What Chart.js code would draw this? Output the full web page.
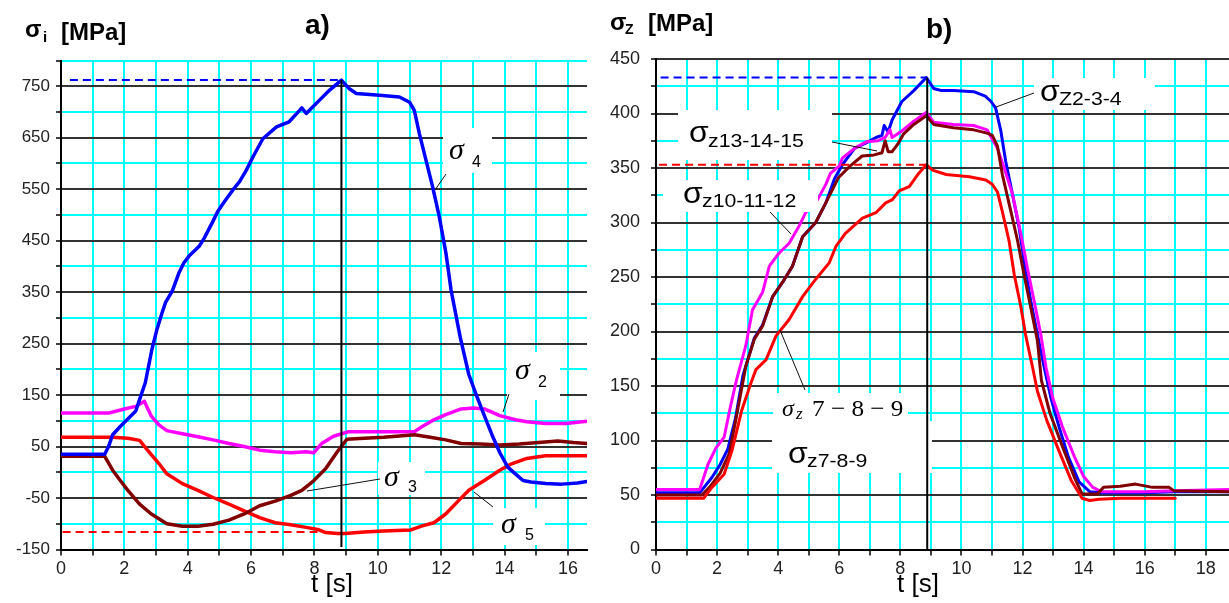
<!DOCTYPE html>
<html>
<head>
<meta charset="utf-8">
<script src="https://cdn.jsdelivr.net/npm/chart.js@4.4.0/dist/chart.umd.min.js"></script>
<style>
  html, body { margin: 0; padding: 0; background: #fff; }
  #wrap { position: relative; width: 1229px; height: 603px; overflow: hidden; }
  .panel { position: absolute; top: 0; height: 603px; }
  #panelA { left: 0; width: 600px; }
  #panelB { left: 596px; width: 633px; }
</style>
</head>
<body>
<div id="wrap">
  <div class="panel" id="panelA"><canvas id="chartA"></canvas></div>
  <div class="panel" id="panelB"><canvas id="chartB"></canvas></div>
</div>
<script>
// ---- panel a) sigma_i [MPa] vs t [s]
const timeS4 = [0, 1.38, 1.5, 1.63, 1.87, 2.1, 2.36, 2.5, 2.66, 2.87, 3.03, 3.19, 3.3, 3.51, 3.72, 3.88, 4.04, 4.36, 4.52, 4.79, 4.95, 5.16, 5.43, 5.64, 5.85, 6.06, 6.37, 6.8, 7.2, 7.53, 7.6, 7.74, 7.95, 8.16, 8.47, 8.85, 9.1, 9.32, 9.74, 10.15, 10.68, 11.0, 11.15, 11.31, 11.52, 11.73, 11.94, 12.15, 12.31, 12.6, 12.87, 13.12, 13.36, 13.6, 13.85, 14.1, 14.34, 14.58, 14.83, 15.3, 15.8, 16.3, 16.6];
const sigma4 = [35, 35, 50, 73, 89, 103, 119, 145, 174, 239, 278, 310, 330, 352, 387, 407, 420, 439, 455, 487, 507, 526, 549, 565, 587, 613, 648, 671, 681, 703, 708, 697, 710, 723, 742, 762, 745, 736, 734, 732, 729, 719, 703, 658, 606, 554, 496, 425, 354, 262, 190, 148, 110, 73, 38, 10, -3, -16, -19, -22, -23, -21, -18];

const timeS2 = [0, 1.5, 2.0, 2.36, 2.63, 2.85, 3.09, 3.34, 3.83, 4.32, 4.8, 5.3, 5.78, 6.27, 6.76, 7.25, 7.74, 7.98, 8.23, 8.6, 9.08, 9.7, 11.16, 11.4, 11.77, 12.14, 12.63, 13.0, 13.36, 13.85, 14.34, 14.7, 15.3, 15.93, 16.6];
const sigma2 = [115, 115, 123, 128, 138, 109, 92, 81, 75, 69, 63, 56, 50, 43, 40, 38, 40, 38, 56, 70, 79, 79, 79, 89, 102, 112, 123, 125, 123, 110, 102, 98, 95, 95, 99];

const timeS3 = [0, 1.38, 1.63, 1.87, 2.11, 2.48, 2.85, 3.34, 3.83, 4.32, 4.8, 5.3, 5.78, 6.27, 6.76, 7.25, 7.6, 7.98, 8.35, 8.72, 9.02, 9.57, 10.18, 11.16, 11.65, 12.14, 12.63, 13.24, 13.85, 14.46, 15.07, 15.68, 16.17, 16.6];
const sigma3 = [31, 31, 4, -16, -35, -62, -81, -100, -105, -105, -101, -93, -81, -65, -56, -45, -35, -16, 7, 40, 64, 66, 68, 73, 68, 63, 56, 55, 53, 55, 58, 61, 58, 56];

const timeS5 = [0, 1.63, 2.11, 2.48, 2.73, 3.09, 3.34, 3.83, 4.32, 4.8, 5.3, 5.78, 6.27, 6.76, 7.25, 7.74, 8.1, 8.35, 8.72, 8.96, 9.57, 10.18, 11.04, 11.4, 11.77, 12.14, 12.5, 12.87, 13.36, 13.85, 14.2, 14.7, 15.3, 16.6];
const sigma5 = [68, 68, 66, 62, 43, 17, -3, -22, -35, -49, -62, -75, -88, -98, -102, -107, -111, -117, -119, -119, -116, -114, -112, -104, -98, -81, -58, -35, -16, 4, 16, 27, 32, 32];

const peakTimeA = 8.85;
const peakA = 762;      // blue dashed level
const minA = -116;      // red dashed level
const yLabelsA = [-150, -50, 50, 150, 250, 350, 450, 550, 650, 750];
const xLabelsA = [0, 2, 4, 6, 8, 10, 12, 14, 16];

// ---- panel b) sigma_z [MPa] vs t [s]
const timeZ234 = [0, 1.43, 1.83, 2.1, 2.35, 2.6, 2.85, 3.22, 3.49, 3.82, 4.14, 4.47, 4.8, 5.23, 5.56, 5.84, 6.1, 6.5, 6.88, 7.2, 7.4, 7.47, 7.6, 7.73, 8.05, 8.44, 8.85, 9.09, 9.35, 9.74, 10.4, 10.78, 10.97, 11.12, 11.29, 11.45, 11.67, 11.89, 12.05, 12.27, 12.49, 12.71, 12.93, 13.2, 13.5, 13.85, 14.2, 14.6, 16, 17, 18.76];
const sigmaZ234 = [52, 52, 66, 78, 92, 120, 160, 194, 206, 232, 245, 260, 287, 300, 318, 340, 353, 368, 373, 378, 380, 389, 383, 394, 411, 421, 433, 423, 421, 421, 420, 416, 411, 405, 384, 356, 326, 295, 265, 228, 197, 167, 139, 112, 85, 62, 53, 52, 52, 53, 53];

const timeZ101112 = [0, 1.43, 1.7, 1.96, 2.23, 2.43, 2.63, 2.94, 3.16, 3.49, 3.71, 4.03, 4.36, 4.69, 4.9, 5.29, 5.56, 5.71, 6.0, 6.1, 6.5, 6.88, 7.27, 7.5, 7.66, 7.73, 8.05, 8.44, 8.85, 9.09, 9.74, 10.4, 10.84, 11.04, 11.18, 11.4, 11.67, 11.95, 12.16, 12.38, 12.6, 12.77, 12.99, 13.3, 13.7, 14.0, 14.3, 14.6, 16, 17, 18.76];
const sigmaZ101112 = [55, 55, 78, 93, 103, 130, 155, 187, 220, 236, 260, 272, 281, 297, 309, 321, 335, 345, 352, 359, 368, 374, 375, 378, 385, 378, 384, 393, 401, 392, 390, 389, 385, 375, 368, 350, 326, 289, 258, 228, 197, 167, 139, 113, 85, 67, 57, 53, 53, 54, 55];

const timeZ131415 = [0, 1.5, 1.75, 2.1, 2.4, 2.62, 2.94, 3.22, 3.49, 3.82, 4.14, 4.47, 4.8, 5.23, 5.56, 5.97, 6.36, 6.75, 7.14, 7.4, 7.5, 7.6, 7.73, 7.92, 8.1, 8.44, 8.85, 9.09, 9.74, 10.4, 10.84, 11.01, 11.18, 11.34, 11.62, 11.84, 12.05, 12.27, 12.49, 12.62, 12.9, 13.3, 13.7, 13.95, 14.45, 14.65, 15.2, 15.7, 16.25, 16.8, 16.95, 18.76];
const sigmaZ131415 = [50, 50, 57, 70, 88, 120, 168, 193, 205, 232, 245, 260, 287, 300, 318, 341, 352, 361, 362, 364, 375, 365, 365, 372, 381, 390, 398, 390, 387, 385, 382, 380, 370, 344, 310, 283, 252, 222, 191, 155, 125, 95, 66, 51, 51, 57, 58, 60, 57, 57, 54, 53];

const timeZ789 = [0, 1.56, 1.83, 2.23, 2.5, 2.8, 3.1, 3.27, 3.6, 3.93, 4.36, 4.8, 5.23, 5.67, 5.89, 6.2, 6.76, 7.2, 7.52, 7.74, 7.96, 8.29, 8.6, 8.85, 9.05, 9.5, 10.26, 10.8, 11.01, 11.18, 11.34, 11.56, 11.73, 11.95, 12.1, 12.33, 12.49, 12.8, 13.2, 13.6, 13.95, 14.2, 14.5, 15.2, 17.0];
const sigmaZ789 = [47, 47, 57, 69, 92, 127, 152, 165, 174, 196, 211, 232, 248, 263, 278, 290, 304, 309, 318, 321, 329, 333, 345, 353, 348, 344, 342, 339, 335, 328, 310, 283, 252, 222, 197, 167, 145, 118, 90, 63, 47, 45, 46, 47, 47];

const peakTimeB = 8.88;
const peakB = 433;      // blue dashed level
const peakRedB = 353;   // red dashed level
const yLabelsB = [0, 50, 100, 150, 200, 250, 300, 350, 400, 450];
const xLabelsB = [0, 2, 4, 6, 8, 10, 12, 14, 16, 18];

const CYAN = '#00ffff';
const GRIDBLACK = '#333333';

function pts(ts, vs) {
  return ts.map((t, i) => ({ x: t, y: vs[i] }));
}

function curve(ts, vs, color, w) {
  return { data: pts(ts, vs), borderColor: color, borderWidth: w, pointRadius: 0, tension: 0, fill: false,
           borderJoinStyle: 'round', borderCapStyle: 'round' };
}

function refLine(ts, vs, color, dash) {
  return { data: pts(ts, vs), borderColor: color, borderWidth: 2, pointRadius: 0, tension: 0, fill: false,
           borderDash: dash || [] };
}

// white label boxes, leader lines and texts (page pixel coords, dx = canvas left)
function makeNotes(cfg) {
  return {
    id: 'notes',
    afterDatasetDraw(chart, args) {
      if (args.index !== cfg.boxAfter) return;
      const c = chart.ctx;
      c.save();
      c.fillStyle = '#fff';
      cfg.boxes.forEach(b => c.fillRect(b[0] - cfg.dx, b[1], b[2], b[3]));
      c.restore();
    },
    afterDraw(chart) {
      const c = chart.ctx;
      c.save();
      c.strokeStyle = '#111';
      c.lineWidth = 1;
      cfg.leaders.forEach(l => {
        c.beginPath();
        c.moveTo(l[0] - cfg.dx, l[1]);
        c.lineTo(l[2] - cfg.dx, l[3]);
        c.stroke();
      });
      c.fillStyle = '#000';
      c.textBaseline = 'alphabetic';
      cfg.texts.forEach(t => {
        c.save();
        c.font = t.f;
        c.textAlign = t.a || 'left';
        c.translate(t.x - cfg.dx, t.y);
        c.scale(t.sx || 1, 1);
        c.fillText(t.s, 0, 0);
        c.restore();
      });
      c.restore();
    }
  };
}

const SERIF_I = 'italic 30px "Liberation Serif"';
const SUB = '16px "Liberation Sans"';
const SIG = '29px "Liberation Sans"';
const SUBZ = '19px "Liberation Sans"';
const BOLD = 'bold 24px "Liberation Sans"';

const notesA = makeNotes({
  dx: 0, boxAfter: 3,
  boxes: [[443, 128, 49, 45], [507, 352, 53, 48], [378, 462, 47, 33], [493, 508, 52, 37]],
  leaders: [[446, 174, 435, 190], [509, 394, 503, 412], [380, 479, 307, 491], [493, 507, 474, 492]],
  texts: [
    { s: 'σ', x: 449, y: 159, f: SERIF_I }, { s: '4', x: 472, y: 167, f: SUB },
    { s: 'σ', x: 515, y: 379, f: SERIF_I }, { s: '2', x: 538, y: 387, f: SUB },
    { s: 'σ', x: 384, y: 486, f: SERIF_I }, { s: '3', x: 408, y: 492, f: SUB },
    { s: 'σ', x: 501, y: 533, f: SERIF_I }, { s: '5', x: 525, y: 540, f: SUB },
    { s: 'σ', x: 25, y: 37, f: BOLD }, { s: 'i', x: 43, y: 42, f: 'bold 15px "Liberation Sans"' },
    { s: '[MPa]', x: 61, y: 40, f: BOLD },
    { s: 'a)', x: 305, y: 34, f: 'bold 28px "Liberation Sans"' },
    { s: 't [s]', x: 332, y: 592, f: '26px "Liberation Sans"', a: 'center' }
  ]
});

const notesB = makeNotes({
  dx: 596, boxAfter: 3,
  boxes: [[1034, 78, 121, 32], [678, 110, 154, 50], [663, 180, 155, 32], [773, 393, 135, 28], [772, 421, 160, 52]],
  leaders: [[996, 107, 1034, 93], [832, 142, 877, 151], [770, 212, 791, 234], [780, 330, 805, 390]],
  texts: [
    { s: 'σ', x: 1040, y: 101, f: SIG, sx: 1.1 }, { s: 'Z2-3-4', x: 1059, y: 105, f: SUBZ, sx: 1.12 },
    { s: 'σ', x: 689, y: 142, f: SIG, sx: 1.1 }, { s: 'z13-14-15', x: 708, y: 147, f: SUBZ, sx: 1.12 },
    { s: 'σ', x: 683, y: 203, f: SIG, sx: 1.1 }, { s: 'z10-11-12', x: 702, y: 207, f: SUBZ, sx: 1.12 },
    { s: 'σ', x: 782, y: 416, f: 'italic 24px "Liberation Serif"' },
    { s: 'z', x: 796, y: 419, f: 'italic 17px "Liberation Serif"' },
    { s: '7 − 8 − 9', x: 812, y: 416, f: '24px "Liberation Serif"', sx: 1.05 },
    { s: 'σ', x: 788, y: 463, f: SIG, sx: 1.1 }, { s: 'z7-8-9', x: 807, y: 467, f: SUBZ, sx: 1.12 },
    { s: 'σ', x: 610, y: 30, f: BOLD }, { s: 'Z', x: 625, y: 34, f: 'bold 14px "Liberation Sans"' },
    { s: '[MPa]', x: 648, y: 31, f: BOLD },
    { s: 'b)', x: 926, y: 38, f: 'bold 28px "Liberation Sans"' },
    { s: 't [s]', x: 918, y: 592, f: '26px "Liberation Sans"', a: 'center' }
  ]
});

function axisX(max, labels, fontSize) {
  return {
    type: 'linear', min: 0, max: max,
    ticks: { stepSize: 1, includeBounds: false, autoSkip: false, maxRotation: 0, padding: 3, color: '#222',
             font: { family: 'Liberation Sans', size: fontSize },
             callback: v => labels.includes(v) ? String(v) : '' },
    grid: { color: CYAN, lineWidth: 2, tickColor: '#000', tickLength: 6, tickWidth: 1.5 },
    border: { color: '#000', width: 2 },
    afterFit: s => { s.height = 53.5; }
  };
}

function axisY(min, max, step, labels, width, pad, fontSize) {
  return {
    min: min, max: max,
    ticks: { stepSize: step, autoSkip: false, padding: pad, color: '#222',
             font: { family: 'Liberation Sans', size: fontSize },
             callback: v => labels.includes(v) ? String(v) : '' },
    grid: { color: c => (c.tick && labels.includes(c.tick.value)) ? GRIDBLACK : CYAN,
            lineWidth: 2, tickColor: '#000', tickLength: 5, tickWidth: 1.5 },
    border: { color: '#000', width: 2 },
    afterFit: s => { s.width = width; }
  };
}

new Chart(document.getElementById('chartA'), {
  type: 'line',
  data: {
    datasets: [
      refLine([peakTimeA, peakTimeA], [peakA, -145], '#000'),
      refLine([0.28, peakTimeA], [peakA, peakA], '#0000ff', [8, 5]),
      refLine([0.05, 8.5], [minA, minA], '#ff0000', [8, 5]),
      curve(timeS4, sigma4, '#0000ff', 3.5),
      curve(timeS3, sigma3, '#800000', 3.5),
      curve(timeS2, sigma2, '#ff00ff', 3.5),
      curve(timeS5, sigma5, '#ff0000', 3.5)
    ]
  },
  options: {
    responsive: true, maintainAspectRatio: false, animation: false,
    layout: { padding: { top: 60.5, right: 13, left: 0, bottom: 0 } },
    plugins: { legend: { display: false }, tooltip: { enabled: false } },
    scales: {
      x: axisX(16.6, xLabelsA, 18),
      y: axisY(-150, 800, 50, yLabelsA, 61, 6, 17)
    }
  },
  plugins: [notesA]
});

new Chart(document.getElementById('chartB'), {
  type: 'line',
  data: {
    datasets: [
      refLine([peakTimeB, peakTimeB], [peakB, 0], '#000'),
      refLine([0.15, peakTimeB], [peakB, peakB], '#0000ff', [8, 5]),
      refLine([0.1, peakTimeB], [peakRedB, peakRedB], '#ff0000', [8, 5]),
      curve(timeZ789, sigmaZ789, '#ff0000', 3),
      curve(timeZ131415, sigmaZ131415, '#800000', 3),
      curve(timeZ101112, sigmaZ101112, '#ff00ff', 3),
      curve(timeZ234, sigmaZ234, '#0000ff', 3)
    ]
  },
  options: {
    responsive: true, maintainAspectRatio: false, animation: false,
    layout: { padding: { top: 59, right: 0, left: 0, bottom: 0 } },
    plugins: { legend: { display: false }, tooltip: { enabled: false } },
    scales: {
      x: axisX(18.76, xLabelsB, 18),
      y: axisY(0, 450, 25, yLabelsB, 60, 11, 18)
    }
  },
  plugins: [notesB]
});
</script>
</body>
</html>
